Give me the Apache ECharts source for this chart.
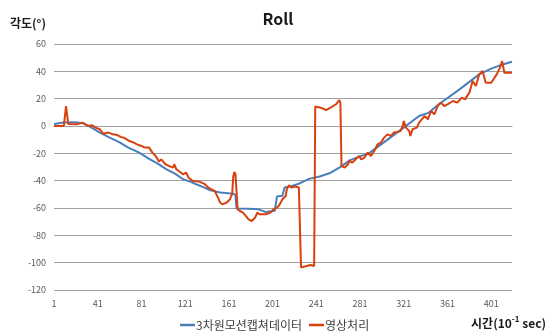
<!DOCTYPE html>
<html>
<head>
<meta charset="utf-8">
<script src="https://cdn.jsdelivr.net/npm/echarts@6/dist/echarts.min.js"></script>
<style>html,body{margin:0;padding:0;background:#fff;}#c{width:556px;height:331px;}</style>
</head>
<body>
<div id="c"></div>
<script>
// Time index (10^-1 sec) categories 1..420
var categoryCount = 420;
var categories = [];
for (var i = 1; i <= categoryCount; i++) categories.push(String(i));

// 3차원모션캡쳐데이터 (blue) — vertices
var blueT = [1,10,20,28,35,43,52,61,69,79,88,96,104,112,119,125,131,137,143,153,165,167,168,179,188,195,203,205,210,212,218,225,235,244,253,262,272,290,317,335,344,353,372,390,401,409,420];
var blueV = [1.5,2.5,2.8,2,-1,-4.8,-8.5,-12,-15.8,-19.5,-24,-27.5,-31.7,-35,-39,-40.5,-42.6,-44.5,-46.8,-48.7,-49.5,-50.5,-60.4,-60.5,-61,-63,-62,-51.5,-51,-45,-44,-42.2,-38.5,-37,-34.6,-30.4,-25,-19.5,-3.6,7.3,9.8,15.9,26.8,37.8,42,44.4,47];

// 영상처리 (red)
var redT = [1,10,12,14,22,27,32,36,39,43,46,51,55,59,62,65,70,74,77,81,84,88,91,94,97,99,103,107,110,111,113,119,122,124,128,134,139,142,145,148,151,153,155,159,162,164,165,166,167,169,171,174,179,182,185,187,189,195,199,202,205,207,210,213,214,216,218,222,225,226,227,232,236,239,240,245,250,254,259,262,263,264,267,270,271,274,277,280,282,285,288,291,294,297,300,303,306,309,312,315,318,320,321,323,326,327,329,333,335,340,343,346,349,352,355,358,361,366,370,374,377,381,384,387,390,393,396,401,406,409,411,413,420];
var redV = [0,0,14.6,1.5,1.2,2.5,0,0.5,-1.2,-2.4,-5.6,-4.8,-6.1,-6.6,-8,-8.5,-11,-12.2,-13.4,-14.6,-15.8,-15.8,-19.5,-21.9,-26,-24.4,-28,-29.5,-30.4,-28,-31.7,-35.3,-34.1,-37.7,-40.2,-40.7,-42.6,-45,-46.3,-47.5,-52.4,-56,-57.3,-56,-53.6,-49.5,-37,-33.6,-35.3,-60.9,-62.2,-63.4,-68.3,-69.5,-67,-63.4,-64.6,-64.6,-63.4,-60.9,-59.7,-58,-53.6,-51.2,-46.3,-43.4,-45,-44.3,-45,-46.3,-103.6,-102.4,-101.7,-102.4,14.2,13.4,11.7,13.4,15.9,19,17.1,-29.3,-30.4,-28,-25.6,-26.8,-24.4,-21.9,-24.4,-23.1,-19.5,-21.9,-18.3,-13.4,-12.2,-8.5,-6.1,-7.3,-4.8,-4.3,-3.6,0,3.7,-1.2,-3.6,-7.3,-2.4,-1.2,2.5,7.3,4.9,11,8.5,14.6,17.1,14.6,15.9,18.3,17.1,20.8,19.5,24.4,32.9,29.3,37.8,40.2,31.7,31.7,37.8,42.7,47.5,39,39];

var seriesNames = ['3차원모션캡쳐데이터', '영상처리'];
var yTicks = {min: -120, max: 60, step: 20};

function pairs(ts, vs) {
  return ts.map(function (t, k) { return [String(t), vs[k]]; });
}

var FONT = '"Noto Sans CJK KR", "Noto Sans", sans-serif';
var chart = echarts.init(document.getElementById('c'), null, {renderer: 'canvas'});
chart.setOption({
  animation: false,
  backgroundColor: '#ffffff',
  textStyle: {fontFamily: FONT},
  title: [
    {text: 'Roll', left: 'center', top: 6,
     textStyle: {fontFamily: FONT, fontSize: 16, fontWeight: 'bold', color: '#1a1a1a'}},
    {text: '시간(10{sup|-1} sec)', right: 10, top: 315, padding: 0,
     textStyle: {fontFamily: FONT, fontSize: 12, fontWeight: 'bold', color: '#1a1a1a', lineHeight: 16,
       rich: {sup: {fontFamily: FONT, fontSize: 8, fontWeight: 'bold', color: '#1a1a1a', verticalAlign: 'top', lineHeight: 16}}}}
  ],
  legend: {
    left: 180, top: 319, padding: 0,
    icon: 'rect',
    itemWidth: 15, itemHeight: 2.5, itemGap: 7,
    textStyle: {fontFamily: FONT, fontSize: 12, color: '#404040', padding: [0, 0, 0, -4]},
    data: seriesNames
  },
  grid: {left: 54, right: 44, top: 44, bottom: 41, containLabel: false},
  xAxis: {
    type: 'category',
    data: categories,
    boundaryGap: false,
    axisLine: {show: true, lineStyle: {color: '#a0a0a0', width: 1}},
    axisTick: {show: false},
    axisLabel: {interval: 39, fontSize: 9, color: '#595959', margin: 9, fontFamily: FONT},
    splitLine: {show: false}
  },
  yAxis: {
    type: 'value',
    min: yTicks.min, max: yTicks.max, interval: yTicks.step,
    name: '각도(°)',
    nameLocation: 'end',
    nameGap: 15,
    nameTextStyle: {fontFamily: FONT, fontSize: 12, fontWeight: 'bold', color: '#1a1a1a', align: 'right', padding: [0, 8, 0, 0]},
    axisLine: {show: false},
    axisTick: {show: false},
    axisLabel: {fontSize: 9, color: '#595959', margin: 8, fontFamily: FONT},
    splitLine: {lineStyle: {color: '#a0a0a0', width: 1}}
  },
  series: [
    {name: seriesNames[0], type: 'line', symbol: 'none', data: pairs(blueT, blueV),
     lineStyle: {color: '#4a7ebb', width: 2}, itemStyle: {color: '#4a7ebb'}, z: 2},
    {name: seriesNames[1], type: 'line', symbol: 'none', data: pairs(redT, redV),
     lineStyle: {color: '#d9400f', width: 2}, itemStyle: {color: '#d9400f'}, z: 3}
  ]
});
</script>
</body>
</html>
